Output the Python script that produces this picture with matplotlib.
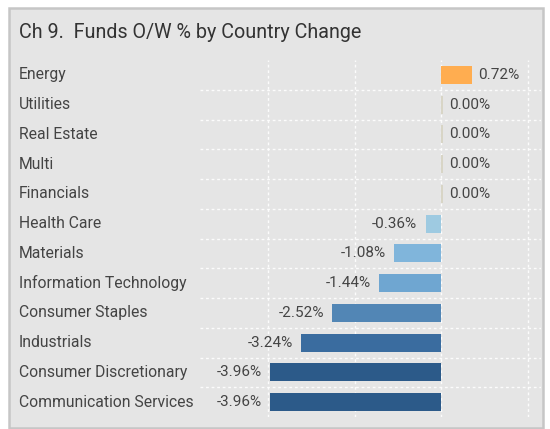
import matplotlib
matplotlib.use("Agg")
import matplotlib.pyplot as plt
from matplotlib.patches import Rectangle
from matplotlib import font_manager

categories = ["Energy", "Utilities", "Real Estate", "Multi", "Financials",
              "Health Care", "Materials", "Information Technology",
              "Consumer Staples", "Industrials", "Consumer Discretionary",
              "Communication Services"]
values = [0.72, 0.00, 0.00, 0.00, 0.00, -0.36, -1.08, -1.44, -2.52, -3.24, -3.96, -3.96]
colors = ["#ffad50", "#d8d5c6", "#d8d5c6", "#d8d5c6", "#d8d5c6", "#9ecae1",
          "#80b5db", "#6fa6d1", "#5286b5", "#3a6c9f", "#2c5a89", "#2c5a89"]
title = "Ch 9.  Funds O/W % by Country Change"

names = {f.name for f in font_manager.fontManager.ttflist}
fam = "Liberation Sans Narrow" if "Liberation Sans Narrow" in names else "Roboto"
plt.rcParams['font.family'] = [fam, 'DejaVu Sans']

W, H = 550, 429
fig = plt.figure(figsize=(W / 100, H / 100), dpi=100)
fig.patch.set_facecolor("white")

# panel
fig.patches.append(Rectangle((9 / W, 1 - 428 / H), 534 / W, 420 / H,
                             transform=fig.transFigure, facecolor="#e5e5e5",
                             edgecolor="#c6c6c6", lw=1.8, zorder=-10))

fig.text(19 / W, 1 - 32.5 / H, title, fontsize=14.2, color="#333333",
         ha="left", va="center")

ax = fig.add_axes([200 / W, 1 - 417 / H, 341 / W, 357 / H], zorder=5)
ax.set_facecolor("none")
ax.set_xlim(-5.58, 2.31)
ax.set_ylim(len(categories) - 0.5, -0.5)
for s in ax.spines.values():
    s.set_visible(False)
ax.set_xticks([])
ax.set_yticks([])

# gridlines
for xv in [-4, -2, 0, 2]:
    ax.axvline(xv, color="white", lw=1.0, ls=(0, (2, 2)), alpha=0.9, zorder=1)
for i in range(len(categories) - 1):
    ax.axhline(i + 0.5, color="white", lw=1.0, ls=(0, (2, 2)), alpha=0.9, zorder=1)

for i, (c, v, col) in enumerate(zip(categories, values, colors)):
    if v == 0:
        ax.barh(i, 0.04, left=0.0, height=0.6, color=col, zorder=2)
    else:
        ax.barh(i, v, height=0.6, color=col, zorder=2)
    lbl = f"{v:.2f}%"
    if v < 0:
        ax.annotate(lbl, (v, i), xytext=(-6, 0), textcoords="offset points",
                    ha="right", va="center", fontsize=11, color="#444444")
    else:
        ax.annotate(lbl, (max(v, 0.04), i), xytext=(4.5, 0), textcoords="offset points",
                    ha="left", va="center", fontsize=11, color="#444444")
    y_fig = ax.transData.transform((0, i))[1] / H
    fig.text(19 / W, y_fig, c, fontsize=11.3, color="#444444", ha="left", va="center")

fig.savefig("out.png", dpi=100, facecolor="white")
